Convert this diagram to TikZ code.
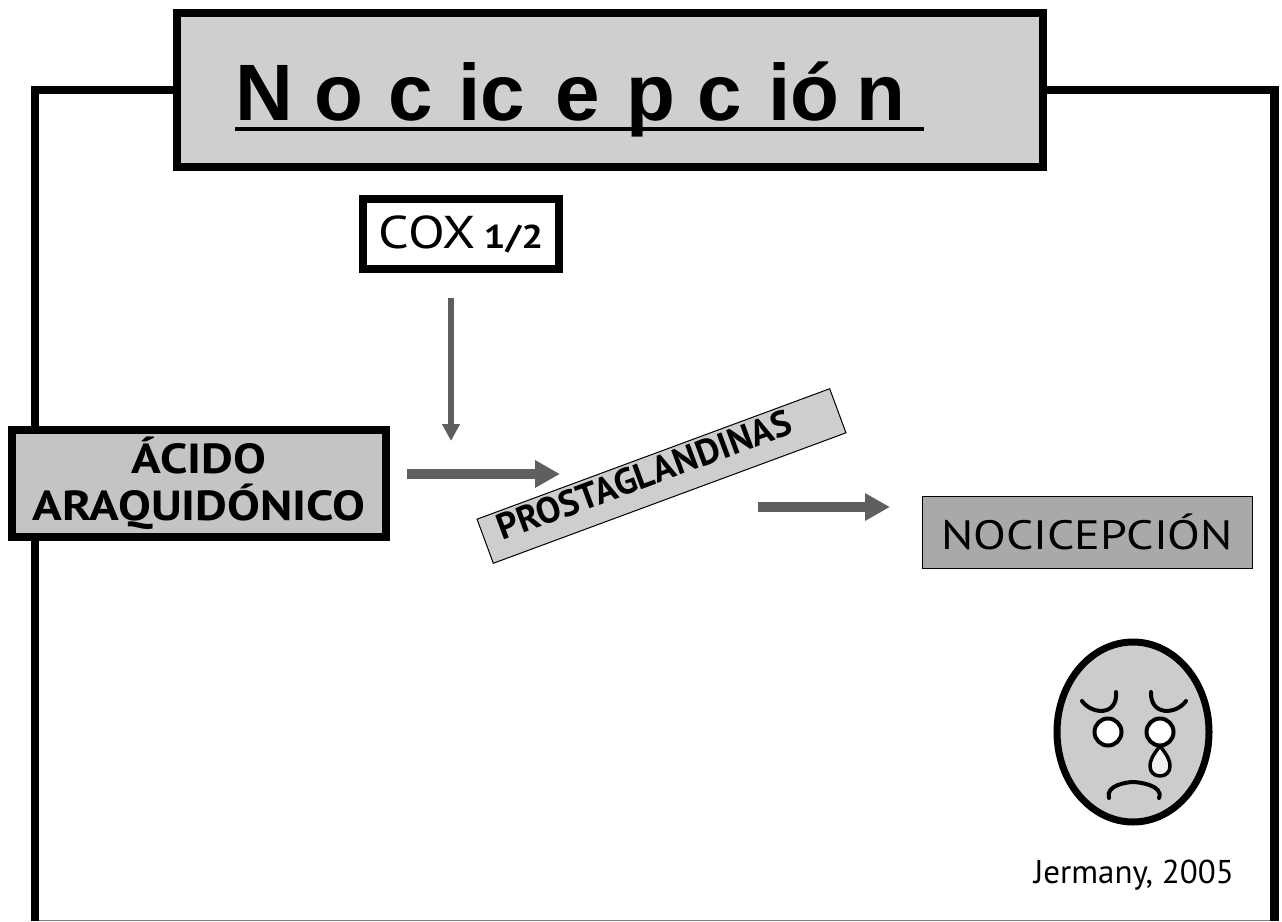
\documentclass[tikz,border=0pt]{standalone}
\usepackage{fontspec}
\setmainfont{PT Sans}
\newfontfamily\titlefont{Liberation Sans}
\newfontfamily\handfont[FakeStretch=1.17]{PT Sans}
\usetikzlibrary{arrows.meta}
\definecolor{titlegray}{HTML}{CFCFCF}
\definecolor{boxgray}{HTML}{C4C4C4}
\definecolor{prostagray}{HTML}{CECECE}
\definecolor{nocigray}{HTML}{A9A9A9}
\definecolor{arrowgray}{HTML}{5F5F5F}
\definecolor{facegray}{HTML}{CCCCCC}
\definecolor{teargray}{HTML}{F0F0F0}
\tikzset{
  x=1pt,y=-1pt,
  heavybox/.style={draw=black,line width=8pt,inner sep=0pt,outer sep=0pt,align=center},
  thinbox/.style={draw=black,line width=1pt,inner sep=0pt,outer sep=0pt,align=center},
  frameline/.style={draw=black,line width=8.5pt,line join=miter},
  bigarrow/.style={draw=arrowgray,line width=10pt,-{Triangle[length=25pt,width=26pt,fill=arrowgray]}},
  smallarrow/.style={draw=arrowgray,line width=6pt,-{Triangle[length=17pt,width=17pt,fill=arrowgray]}},
  faceline/.style={draw=black,line width=4pt,line cap=round},
}
\newcommand{\tg}[1]{\hspace{#1pt}}
\begin{document}
\begin{tikzpicture}
\useasboundingbox (0,0) rectangle (1282,921);
\fill[white] (0,0) rectangle (1282,921);
% frame
\draw[gray,line width=1pt] (39,920.5) -- (1270,920.5);
\draw[frameline] (175,90) -- (35,90) -- (35,921);
\draw[frameline] (1045,90) -- (1274.5,90) -- (1274.5,921);
% title
\node[heavybox,fill=titlegray,minimum width=866pt,minimum height=154pt] (title) at (610,89.5) {};
\fill[black] (235,127) rectangle (924,131);
\node[inner sep=0pt,anchor=base west] (titletext) at (235,120)
  {\titlefont\bfseries\fontsize{80}{80}\selectfont N\tg{22}o\tg{24.2}c\tg{26}ic\tg{30.3}e\tg{27}p\tg{21.6}c\tg{26.5}ió\tg{17}n};
% cox
\node[heavybox,fill=white,minimum width=196pt,minimum height=70pt] (cox) at (461,234)
  {\handfont\fontsize{46}{46}\selectfont COX\hspace{8pt}{\fontsize{33}{33}\selectfont\bfseries 1/2}};
% acido
\node[heavybox,fill=boxgray,minimum width=374pt,minimum height=107pt,font=\handfont\bfseries\fontsize{42}{47}\selectfont] (acido) at (199,483.5)
  {ÁCIDO\\ARAQUIDÓNICO};
% prostaglandinas
\node[thinbox,fill=prostagray,rotate=20.3,minimum width=376pt,minimum height=47pt] (prosta) at (661.5,476) {};
\node[rotate=20.3,inner sep=0pt] (prostatext) at (644,475)
  {\bfseries\fontsize{36.5}{36.5}\selectfont PROSTAGLANDINAS};
% nocicepcion
\node[thinbox,fill=nocigray,minimum width=330pt,minimum height=72pt] (noci) at (1087,532)
  {\handfont\fontsize{41}{41}\selectfont NOCICEPCIÓN};
% arrows
\draw[smallarrow] ([xshift=-10pt,yshift=-29pt]cox.south) -- ([xshift=-10pt,yshift=-172pt]cox.south);
\draw[bigarrow] ([xshift=21pt,yshift=9.5pt]acido.east) -- ++(153,0);
\draw[bigarrow] ([xshift=-164pt,yshift=25pt]noci.west) -- ++(132,0);
% face
\draw[black,fill=facegray,line width=7pt] (1133,732) ellipse [x radius=76,y radius=90];
\draw[black,fill=white,line width=4pt] (1108,732) circle [radius=13.5] (1160,732) circle [radius=13.5];
\draw[black,fill=teargray,line width=3.5pt,line join=round] (1160,746)
  .. controls (1168,756) and (1170,761) .. (1170,766)
  .. controls (1170,772) and (1166,776) .. (1160,776)
  .. controls (1154,776) and (1150,772) .. (1150,766)
  .. controls (1150,761) and (1152,756) .. (1160,746);
\draw[faceline] (1082,701) .. controls (1092,715) and (1118,716) .. (1116,692);
\draw[faceline] (1151,692) .. controls (1150,716) and (1176,715) .. (1186,701);
\draw[faceline] (1109,798) .. controls (1105,785) and (1128,782) .. (1133,782) .. controls (1138,782) and (1164,785) .. (1159,798);
% credit
\node[anchor=base east,inner sep=0pt,font=\fontsize{33}{33}\selectfont] (credit) at (1234,883) {Jermany, 2005};
\end{tikzpicture}
\end{document}
